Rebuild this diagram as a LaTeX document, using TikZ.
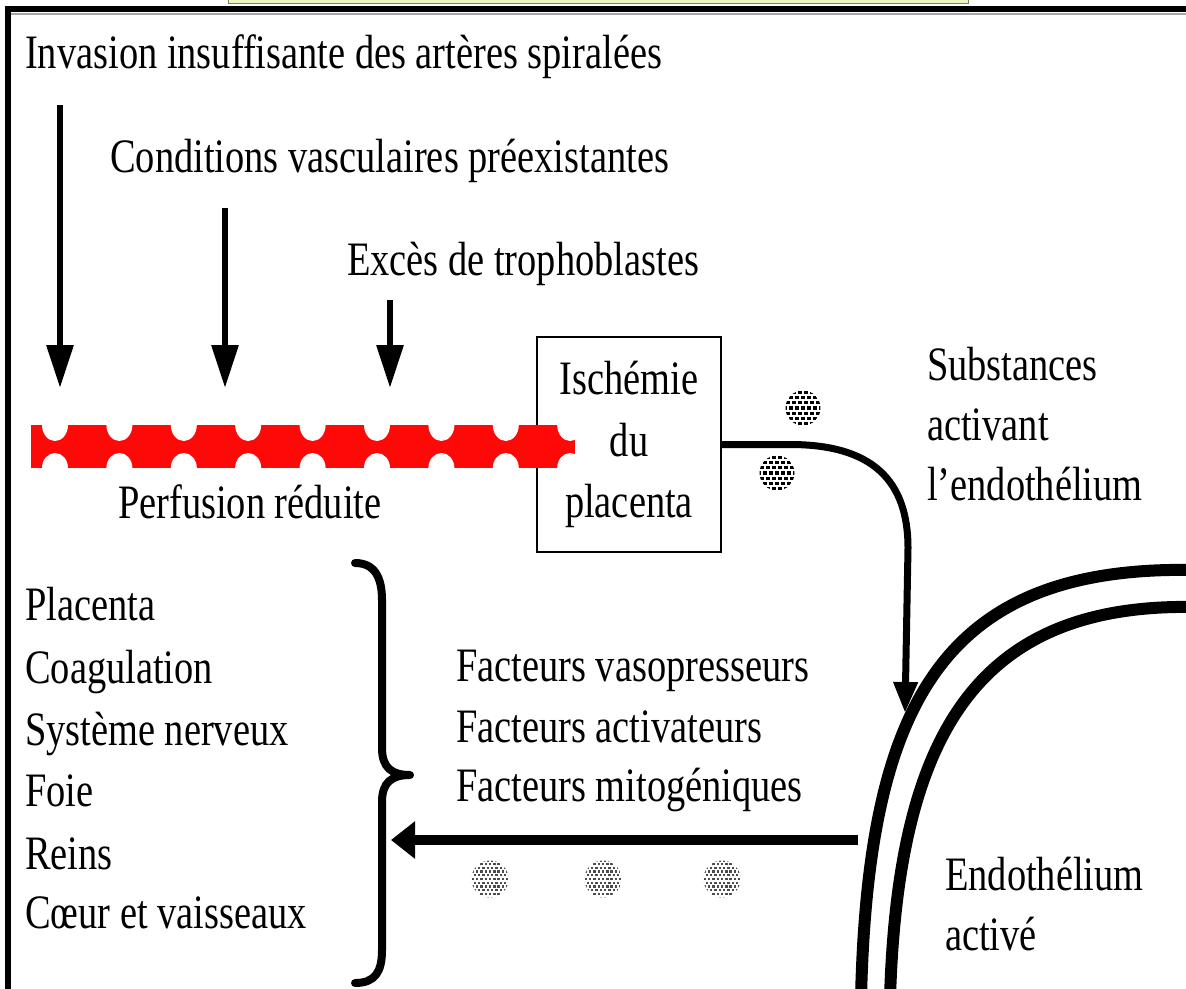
\documentclass[tikz,border=0pt]{standalone}
\usepackage{fontspec}
\setmainfont{Liberation Serif}[FakeStretch=0.8]
\usetikzlibrary{arrows.meta}
\definecolor{pale}{RGB}{238,246,196}
\definecolor{palebd}{RGB}{120,128,100}
\definecolor{barred}{RGB}{255,8,8}
\newcommand{\stipple}[6]{%
  \begin{scope}
    \clip (#1,#2) circle [radius=#3];
    \foreach \rr in {-6,...,6}{%
      \foreach \cc in {-6,...,6}{%
        \pgfmathsetmacro\dx{#4*(\cc+0.5*mod(abs(\rr),2))}%
        \pgfmathsetmacro\dy{#4*0.87*\rr}%
        \fill[#6] (#1+\dx-#5/2,#2+\dy-#5/2) rectangle ++(#5,#5);
      }}
  \end{scope}}
\begin{document}
\begin{tikzpicture}[x=1pt,y=-1pt,
  txt/.style={font=\fontsize{48}{61.5}\selectfont, inner sep=0pt, anchor=base west},
  downarrow/.style={line width=6pt, -{Triangle[length=43pt,width=26pt]}},
  flowline/.style={line width=7pt, -{Triangle[length=31pt,width=23pt]}},
  backarrow/.style={line width=10pt, -{Triangle[length=24pt,width=36pt]}},
  vessel/.style={line width=12pt},
  bracestyle/.style={line width=8pt, line cap=round, line join=round}]
\useasboundingbox (0,0) rectangle (1186,988);

% top tab and frame
\filldraw[fill=pale, draw=palebd, line width=1pt] (228,-5) rectangle (968,3.5);
\draw[line width=2pt, black!35] (11,13.5) -- (1190,13.5);
\draw[line width=6pt] (8,995) -- (8,9) -- (1195,9);

% causes
\node[txt] (inv) at (25,68) {Invasion insuffisante des artères spiralées};
\node[txt] (cond) at (110,172) {Conditions vasculaires préexistantes};
\node[txt] (exc) at (347,275) {Excès de trophoblastes};

\coordinate (a1s) at (60,105);  \coordinate (a1e) at (60,388);
\coordinate (a2s) at (225,208); \coordinate (a2e) at (225,388);
\coordinate (a3s) at (390,300); \coordinate (a3e) at (390,388);
\draw[downarrow] (a1s) -- (a1e);
\draw[downarrow] (a2s) -- (a2e);
\draw[downarrow] (a3s) -- (a3e);

% placenta box
\node[draw, line width=1.6pt, minimum width=184pt, minimum height=215pt,
      inner sep=0pt, align=center, font=\fontsize{48}{61.5}\selectfont]
      (box) at (629,444.5) {Ischémie\\du\\placenta};

% red perfusion bar
\begin{scope}
  \clip (31,425) rectangle (575,468);
  \fill[barred] (31,425) rectangle (575,468);
  \foreach \k in {0,...,8}{%
    \fill[white] (55+64.4*\k,425) ellipse [x radius=13, y radius=16];
    \fill[white] (55+64.4*\k,468) ellipse [x radius=13, y radius=15];
  }
\end{scope}
\node[txt] (perf) at (118,518) {Perfusion réduite};

% substances
\node[txt] (sub1) at (927,380) {Substances};
\node[txt] (sub2) at (927,440) {activant};
\node[txt] (sub3) at (927,500) {l’endothélium};
\stipple{803}{408}{17.5}{6}{3.2}{black}
\stipple{777}{473}{17.5}{6}{3.2}{black}

\coordinate (endo) at (905,713);
\draw[flowline] (box.east) -- (790,444.5) .. controls (872,444.5) and (908,480) .. (908,548) -- (endo);

% vessel
\draw[vessel] (1195,570) .. controls (945,565) and (868,700) .. (861,998);
\draw[vessel] (1195,607) .. controls (980,603) and (898,730) .. (890,998);
\node[txt] (endo1) at (945,890) {Endothélium};
\node[txt] (endo2) at (945,950) {activé};

% factors
\node[txt] (f1) at (456,681) {Facteurs vasopresseurs};
\node[txt] (f2) at (456,742) {Facteurs activateurs};
\node[txt] (f3) at (456,801) {Facteurs mitogéniques};
\coordinate (facs) at (858,840);
\coordinate (face) at (391,840);
\draw[backarrow] (facs) -- (face);
\stipple{490}{879}{18.5}{4.3}{2.4}{black!70}
\stipple{603}{879}{18.5}{4.3}{2.4}{black!70}
\stipple{722}{879}{18.5}{4.3}{2.4}{black!70}

% brace
\draw[bracestyle] (355,563) .. controls (375,563) and (382,578) .. (382,600)
  -- (382,748) .. controls (382,768) and (392,775) .. (410,775)
  .. controls (392,775) and (382,782) .. (382,802)
  -- (382,950) .. controls (382,972) and (375,983) .. (355,983);

% organs
\node[txt] (o1) at (25,620) {Placenta};
\node[txt] (o2) at (25,683) {Coagulation};
\node[txt] (o3) at (25,745) {Système nerveux};
\node[txt] (o4) at (25,806) {Foie};
\node[txt] (o5) at (25,869) {Reins};
\node[txt] (o6) at (25,928) {Cœur et vaisseaux};
\end{tikzpicture}
\end{document}
